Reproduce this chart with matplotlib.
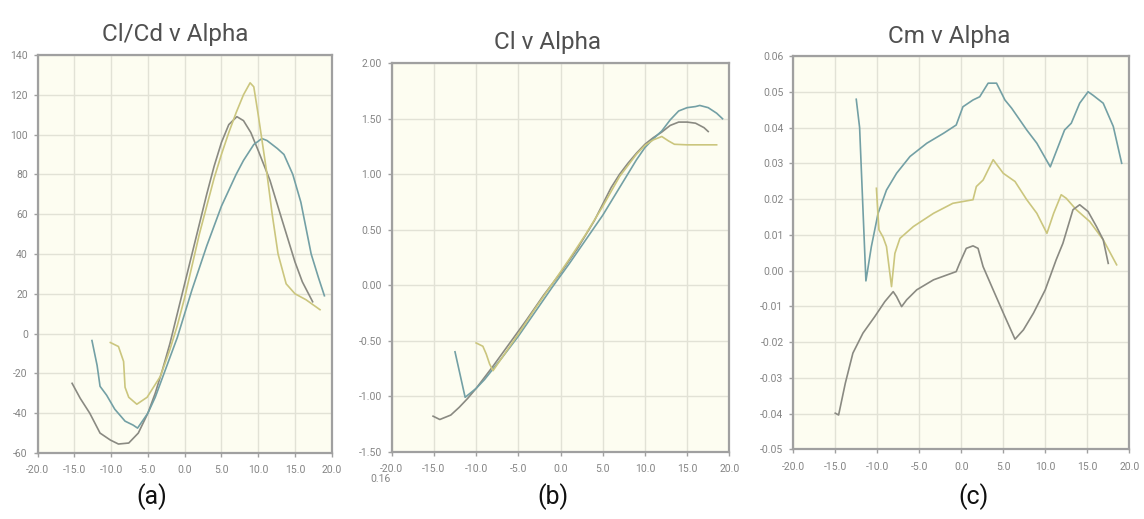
import numpy as np
import matplotlib.pyplot as plt

plt.rcParams['font.family'] = ['Roboto', 'DejaVu Sans']

# colours of the three aerofoil series
c_gray = '#8a8a82'
c_teal = '#73a0a5'
c_yel = '#cbc67e'

# ---- (a) Cl/Cd v Alpha ----
a_gray_x = [-15.3, -14.2, -12.9, -11.5, -10.1, -9.0, -7.6, -6.3, -5.0, -4.0, -3.0, -2.0, -1.0, 0.0, 1.0, 2.0,
            3.0, 4.0, 5.0, 6.0, 7.1, 8.0, 9.0, 10.0, 11.6, 13.0, 14.0, 15.0, 16.0, 17.4]
a_gray_y = [-25, -32.5, -40, -50, -53.5, -55.5, -55, -50, -40, -30, -18, -5, 10, 25, 40, 55,
            70, 84, 96, 105, 109, 107, 101, 92, 77, 60, 48, 36, 26, 16]
a_teal_x = [-12.6, -11.9, -11.5, -10.6, -9.5, -8.1, -7.0, -6.4, -5.0, -4.0, -3.0, -2.0, -1.0, 0.0, 1.0, 2.0,
            3.0, 4.0, 5.0, 6.0, 7.0, 8.0, 9.4, 10.5, 11.2, 12.6, 13.5, 14.7, 15.8, 17.2, 18.2, 19.0]
a_teal_y = [-3.5, -16, -26.5, -31, -38, -44, -46, -47.5, -40, -32, -22, -12, -2, 10, 22, 33,
            44, 54, 64, 72, 80, 87, 95, 98, 97, 93, 90, 80, 66, 40, 28, 19]
a_yel_x = [-10.1, -9.0, -8.3, -8.1, -7.6, -6.5, -5.1, -3.3, -2.0, -1.0, 0.0, 1.0, 2.0, 3.0, 4.0, 5.0,
           6.0, 7.0, 8.0, 8.9, 9.4, 10.0, 10.6, 11.2, 11.9, 12.7, 13.8, 15.0, 16.5, 18.4]
a_yel_y = [-4.5, -6.5, -14, -27, -32, -35.5, -32, -21.5, -8, 4, 18, 34, 50, 64, 78, 90,
           101, 111, 120, 126, 124, 110, 95, 80, 60, 40, 25, 20, 17, 12]

# ---- (b) Cl v Alpha ----
b_gray_x = [-15.1, -14.3, -13.0, -12.0, -11.0, -10.0, -8.0, -6.0, -4.0, -2.0, 0.0, 2.0, 4.0, 6.0, 7.0,
            8.0, 9.0, 10.0, 11.0, 12.0, 13.0, 14.0, 15.0, 16.0, 17.0, 17.5]
b_gray_y = [-1.18, -1.21, -1.17, -1.10, -1.02, -0.93, -0.73, -0.52, -0.31, -0.09, 0.11, 0.33, 0.58, 0.88, 1.00,
            1.10, 1.19, 1.27, 1.33, 1.38, 1.44, 1.47, 1.47, 1.46, 1.42, 1.385]
b_teal_x = [-12.5, -11.3, -10.0, -9.0, -7.0, -5.0, -3.0, -1.0, 1.0, 3.0, 5.0, 7.0, 9.0, 10.0,
            11.0, 12.0, 13.0, 14.0, 15.0, 16.0, 16.5, 17.5, 18.5, 19.2]
b_teal_y = [-0.60, -1.01, -0.93, -0.85, -0.66, -0.46, -0.24, -0.02, 0.19, 0.41, 0.63, 0.88, 1.13, 1.24,
            1.32, 1.39, 1.49, 1.57, 1.60, 1.61, 1.62, 1.60, 1.55, 1.50]
b_yel_x = [-10.0, -9.2, -8.8, -8.4, -8.0, -7.0, -5.0, -3.0, -1.0, 1.0, 3.0, 5.0, 7.0, 9.0, 10.0,
           11.0, 12.0, 12.8, 13.5, 15.0, 17.0, 18.5]
b_yel_y = [-0.52, -0.55, -0.62, -0.71, -0.77, -0.66, -0.44, -0.21, 0.01, 0.23, 0.46, 0.71, 0.98, 1.18, 1.26,
           1.31, 1.34, 1.30, 1.27, 1.265, 1.265, 1.265]

# ---- (c) Cm v Alpha ----
c_teal_x = [-12.5, -12.1, -11.35, -10.7, -9.9, -8.9, -7.7, -6.1, -4.1, -2.1, -0.6, 0.2, 1.4, 2.2, 3.2, 4.2,
            5.2, 6.0, 7.8, 9.0, 10.6, 12.3, 13.1, 14.1, 15.1, 15.7, 16.9, 18.1, 19.1]
c_teal_y = [0.0479, 0.040, -0.0029, 0.0067, 0.016, 0.0225, 0.0272, 0.0319, 0.0356, 0.0384, 0.0407, 0.0458,
            0.0477, 0.0486, 0.0524, 0.0524, 0.0477, 0.0454, 0.0393, 0.0356, 0.029, 0.0393, 0.0412, 0.0468,
            0.050, 0.049, 0.0468, 0.0403, 0.030]
c_yel_x = [-10.1, -9.8, -9.3, -8.9, -8.3, -7.9, -7.3, -5.7, -3.3, -1.0, 1.4, 1.8, 2.6, 3.8, 5.0, 6.4,
           7.8, 9.0, 10.2, 11.0, 11.9, 12.5, 13.7, 15.3, 16.9, 18.5]
c_yel_y = [0.023, 0.0114, 0.0093, 0.0067, -0.0045, 0.0048, 0.009, 0.0123, 0.016, 0.0188, 0.0198, 0.0235,
           0.0253, 0.031, 0.0272, 0.0249, 0.0198, 0.016, 0.0104, 0.016, 0.0212, 0.0202, 0.017, 0.0137,
           0.0086, 0.0016]
c_gray_x = [-15.0, -14.6, -13.8, -12.9, -11.7, -10.3, -9.1, -8.1, -7.7, -7.1, -6.5, -5.3, -3.3, -0.6, -0.2,
            0.6, 1.4, 2.0, 2.6, 3.8, 5.2, 6.4, 7.4, 8.6, 10.0, 11.3, 12.1, 13.3, 14.1, 15.1, 16.1, 16.9, 17.5]
c_gray_y = [-0.0399, -0.0404, -0.0315, -0.0231, -0.0175, -0.0129, -0.0087, -0.0059, -0.0073, -0.0101,
            -0.0082, -0.0054, -0.0026, -0.0003, 0.002, 0.0062, 0.0069, 0.0062, 0.0011, -0.0054, -0.0129,
            -0.0192, -0.0166, -0.0119, -0.0054, 0.003, 0.0076, 0.017, 0.0184, 0.0165, 0.0123, 0.0086, 0.002]

x_ticks = [-20, -15, -10, -5, 0, 5, 10, 15, 20]

fig = plt.figure(figsize=(11.44, 5.19), dpi=100)
fig.patch.set_facecolor('white')


def style(ax, yticks, yfmt):
    ax.set_facecolor('#fdfdf1')
    ax.set_xlim(-20, 20)
    ax.set_ylim(yticks[0], yticks[-1])
    ax.set_xticks(x_ticks)
    ax.set_xticklabels(['%.1f' % v for v in x_ticks])
    ax.set_yticks(yticks)
    ax.set_yticklabels([yfmt % v for v in yticks])
    ax.grid(True, color='#e2e2d6', lw=1.0)
    ax.set_axisbelow(True)
    for s in ax.spines.values():
        s.set_color('#a0a0a0')
        s.set_linewidth(1.6)
    ax.tick_params(colors='#a0a0a0', labelcolor='#858585', labelsize=7.5, length=3, width=1)
    ax.tick_params(axis='x', pad=6)
    ax.tick_params(axis='y', pad=4)


axa = fig.add_axes([0.0328, 0.1272, 0.2572, 0.7669])
axa.plot(a_gray_x, a_gray_y, color=c_gray, lw=1.2)
axa.plot(a_teal_x, a_teal_y, color=c_teal, lw=1.2)
axa.plot(a_yel_x, a_yel_y, color=c_yel, lw=1.2)
style(axa, list(range(-60, 141, 20)), '%d')

axb = fig.add_axes([0.3424, 0.1297, 0.2951, 0.7484])
axb.plot(b_gray_x, b_gray_y, color=c_gray, lw=1.2)
axb.plot(b_teal_x, b_teal_y, color=c_teal, lw=1.2)
axb.plot(b_yel_x, b_yel_y, color=c_yel, lw=1.2)
style(axb, [-1.5, -1.0, -0.5, 0.0, 0.5, 1.0, 1.5, 2.0], '%.2f')

axc = fig.add_axes([0.6934, 0.1343, 0.2937, 0.7578])
axc.plot(c_teal_x, c_teal_y, color=c_teal, lw=1.2)
axc.plot(c_yel_x, c_yel_y, color=c_yel, lw=1.2)
axc.plot(c_gray_x, c_gray_y, color=c_gray, lw=1.2)
style(axc, [round(v, 2) for v in np.arange(-0.05, 0.061, 0.01)], '%.2f')

# titles
fig.text(175 / 1144, 1 - 34 / 519, 'Cl/Cd v Alpha', ha='center', va='center', fontsize=17.5, color='#505050')
fig.text(547 / 1144, 1 - 43 / 519, 'Cl v Alpha', ha='center', va='center', fontsize=17.5, color='#505050')
fig.text(949 / 1144, 1 - 36 / 519, 'Cm v Alpha', ha='center', va='center', fontsize=17.5, color='#505050')

# panel letters
for lab, px in [('(a)', 152), ('(b)', 553), ('(c)', 973)]:
    fig.text(px / 1144, 1 - 497 / 519, lab, ha='center', va='center', fontsize=18,
             color='#111111', family=['Liberation Sans Narrow', 'Roboto'])

# stray label left over under panel (b)
fig.text(370 / 1144, 1 - 479 / 519, '0.16', ha='left', va='center', fontsize=7.5, color='#858585')

fig.savefig('out.png', dpi=100)
